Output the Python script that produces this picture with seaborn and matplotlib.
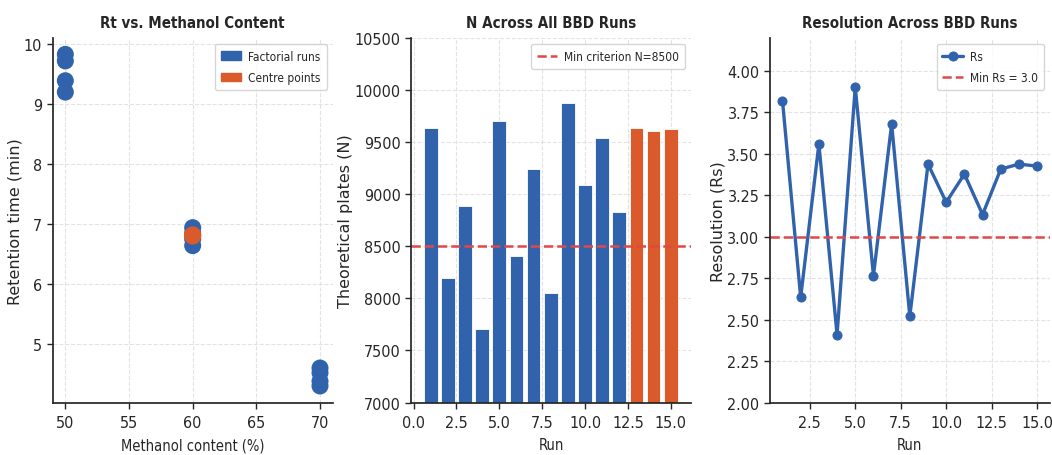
import matplotlib
matplotlib.use("Agg")
import matplotlib.pyplot as plt
import seaborn as sns
import pandas as pd
import numpy as np
from matplotlib.patches import Patch

# ---- data ----
methanol_fact = [50, 50, 50, 50, 60, 60, 60, 60, 70, 70, 70, 70]
rt_fact = [9.83, 9.72, 9.39, 9.20, 6.94, 6.85, 6.75, 6.64, 4.60, 4.52, 4.38, 4.30]
methanol_centre = [60, 60, 60]
rt_centre = [6.80, 6.82, 6.81]

runs = list(range(1, 16))
plates = [9633, 8198, 8888, 7707, 9704, 8406, 9238, 8047, 9871, 9090, 9537, 8830,
          9633, 9607, 9623]
run_type = ["Factorial runs"] * 12 + ["Centre points"] * 3
rs = [3.82, 2.634, 3.559, 2.409, 3.903, 2.765, 3.68, 2.52, 3.438, 3.208, 3.378,
      3.134, 3.408, 3.438, 3.426]

N_CRIT = 8500
RS_CRIT = 3.0

BLUE = "#3063ab"
ORANGE = "#db5a2b"
RED = "#e04848"

sns.set_theme(style="ticks")
plt.rcParams["font.family"] = ["DejaVu Sans"]
plt.rcParams["font.stretch"] = "condensed"

fig, axes = plt.subplots(1, 3, figsize=(10.52, 4.56), dpi=100)
fig.subplots_adjust(left=0.05, right=0.998, top=0.915, bottom=0.115, wspace=0.28)

def style_axis(ax):
    ax.grid(True, linestyle="--", linewidth=0.8, color="#dcdcdc", alpha=0.8)
    ax.set_axisbelow(True)
    sns.despine(ax=ax)
    ax.tick_params(labelsize=11.5, length=4, width=1)
    ax.tick_params(axis="x", pad=5)
    for lab in ax.get_xticklabels() + ax.get_yticklabels():
        lab.set_fontstretch("condensed")

def title(ax, text):
    ax.set_title(text, fontsize=10.8, fontweight="bold", fontstretch="condensed", pad=8)

def ylab(ax, text):
    ax.set_ylabel(text, fontsize=11.5, fontstretch="normal", labelpad=1)

def xlab(ax, text):
    ax.set_xlabel(text, fontsize=10.5, fontstretch="condensed", labelpad=5)

LEG = dict(size=8.6, stretch="condensed")
LEGKW = dict(loc="upper right", prop=LEG, frameon=True, handlelength=1.7,
             labelspacing=0.7, borderpad=0.5, handletextpad=0.6)

# ---- panel 1 ----
ax = axes[0]
df1 = pd.DataFrame({
    "Methanol": methanol_fact + methanol_centre,
    "Rt": rt_fact + rt_centre,
    "type": ["Factorial runs"] * len(methanol_fact) + ["Centre points"] * len(methanol_centre),
})
sns.scatterplot(data=df1, x="Methanol", y="Rt", hue="type",
                palette={"Factorial runs": BLUE, "Centre points": ORANGE},
                s=150, edgecolor="none", ax=ax, legend=False)
title(ax, "Rt vs. Methanol Content")
xlab(ax, "Methanol content (%)")
ylab(ax, "Retention time (min)")
ax.set_xticks([50, 55, 60, 65, 70])
ax.set_yticks([5, 6, 7, 8, 9, 10])
style_axis(ax)
ax.legend(handles=[Patch(color=BLUE, label="Factorial runs"),
                   Patch(color=ORANGE, label="Centre points")], **LEGKW)

# ---- panel 2 ----
ax = axes[1]
df2 = pd.DataFrame({"Run": runs, "N": plates, "type": run_type})
sns.barplot(data=df2, x="Run", y="N", hue="type", dodge=False, native_scale=True,
            palette={"Factorial runs": BLUE, "Centre points": ORANGE}, saturation=1,
            edgecolor="white", linewidth=0.6, width=0.8, legend=False, ax=ax)
ax.axhline(N_CRIT, color=RED, linestyle="--", linewidth=1.8,
           label="Min criterion N=8500")
ax.set_ylim(7000, 10500)
ax.set_xlim(-0.14, 16.2)
ax.set_xticks([0.0, 2.5, 5.0, 7.5, 10.0, 12.5, 15.0])
ax.set_xticklabels(["0.0", "2.5", "5.0", "7.5", "10.0", "12.5", "15.0"])
title(ax, "N Across All BBD Runs")
xlab(ax, "Run")
ylab(ax, "Theoretical plates (N)")
style_axis(ax)
ax.legend(**LEGKW)

# ---- panel 3 ----
ax = axes[2]
df3 = pd.DataFrame({"Run": runs, "Rs": rs})
sns.lineplot(data=df3, x="Run", y="Rs", marker="o", markersize=6.5,
             markeredgecolor=BLUE, color=BLUE, linewidth=2.4, label="Rs", ax=ax)
ax.axhline(RS_CRIT, color=RED, linestyle="--", linewidth=1.8, label="Min Rs = 3.0")
ax.set_ylim(2.0, 4.2)
ax.set_xlim(0.3, 15.7)
ax.set_xticks([2.5, 5.0, 7.5, 10.0, 12.5, 15.0])
ax.set_yticks([2.00, 2.25, 2.50, 2.75, 3.00, 3.25, 3.50, 3.75, 4.00])
ax.set_yticklabels(["2.00", "2.25", "2.50", "2.75", "3.00", "3.25", "3.50", "3.75", "4.00"])
title(ax, "Resolution Across BBD Runs")
xlab(ax, "Run")
ylab(ax, "Resolution (Rs)")
style_axis(ax)
ax.legend(**LEGKW)

fig.savefig("out.png", dpi=100)
